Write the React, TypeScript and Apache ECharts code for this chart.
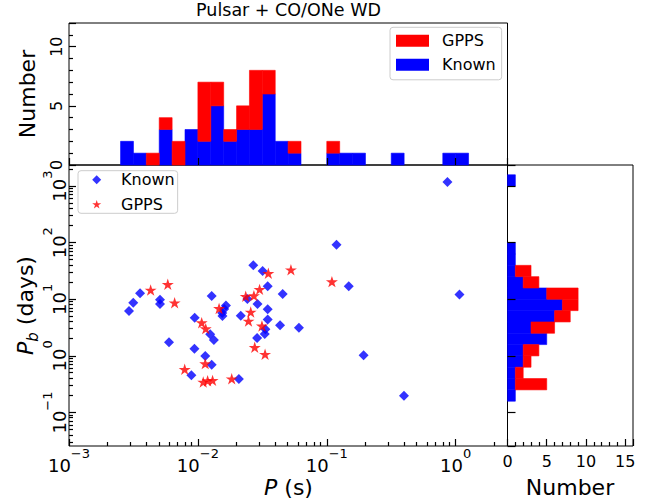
import React, { useEffect, useRef } from 'react';
import * as echarts from 'echarts';

// ---------------- data ----------------
// Known systems: spin period P (s) and orbital period Pb (days)
const knownP = [
  0.863, 0.119, 0.0269, 0.0318, 0.0348, 0.148, 0.0455, 1.07, 0.00356, 0.00315,
  0.00292, 0.00508, 0.00508, 0.0128, 0.00944, 0.0242, 0.029, 0.0348, 0.0348, 0.0434,
  0.0608, 0.0215, 0.0165, 0.016, 0.01545, 0.0155, 0.0334, 0.033, 0.0288, 0.01245,
  0.0133, 0.00597, 0.0094, 0.0114, 0.0128, 0.0089, 0.0208, 0.193, 0.397,
];
const knownPb = [
  1180, 92, 39.9, 31.6, 17.0, 17.0, 12.4, 12.2, 12.8, 8.7,
  6.2, 9.8, 8.3, 11.4, 4.7, 10.1, 8.3, 6.7, 4.4, 3.47,
  3.15, 5.1, 7.8, 6.75, 5.73, 5.07, 2.95, 2.44, 2.07, 2.41,
  1.91, 1.74, 1.34, 0.995, 0.7, 0.454, 0.39, 1.03, 0.198,
];
// GPPS discoveries
const gppsP = [
  0.0043, 0.00584, 0.0066, 0.0146, 0.0235, 0.0272, 0.0301, 0.0352, 0.0527, 0.1096,
  0.0257, 0.0247, 0.0314, 0.0107, 0.0115, 0.0276, 0.0332, 0.0114, 0.0079, 0.011,
  0.0119, 0.013, 0.0183,
];
const gppsPb = [
  14.6, 18.4, 8.7, 6.9, 11.3, 11.6, 15.0, 28.8, 33.3, 20.5,
  5.97, 4.14, 3.38, 3.86, 3.03, 1.42, 1.07, 0.73, 0.58, 0.346,
  0.365, 0.37, 0.395,
];

// Histogram of log10(P): bin edges and counts
const pBinEdges = [
  -2.6, -2.5, -2.4, -2.3, -2.2, -2.1, -2.0, -1.9, -1.8, -1.7, -1.6, -1.5, -1.4, -1.3,
  -1.2, -1.1, -1.0, -0.9, -0.8, -0.7, -0.6, -0.5, -0.4, -0.3, -0.2, -0.1, 0.0, 0.1,
];
const knownPCounts = [2, 1, 0, 3, 0, 3, 2, 5, 2, 3, 3, 6, 2, 1, 0, 0, 1, 1, 1, 0, 0, 1, 0, 0, 0, 1, 1];
const gppsPCounts = [0, 0, 1, 1, 2, 0, 5, 2, 1, 2, 5, 2, 0, 1, 0, 0, 1, 0, 0, 0, 0, 0, 0, 0, 0, 0, 0];

// Histogram of log10(Pb)
const pbBinEdges = [
  -0.8, -0.6, -0.4, -0.2, 0.0, 0.2, 0.4, 0.6, 0.8, 1.0, 1.2, 1.4, 1.6, 1.8, 2.0,
  2.2, 2.4, 2.6, 2.8, 3.0, 3.2,
];
const knownPbCounts = [1, 1, 1, 2, 2, 5, 3, 6, 7, 5, 2, 1, 1, 1, 0, 0, 0, 0, 0, 1];
const gppsPbCounts = [0, 4, 1, 1, 2, 0, 3, 2, 2, 4, 2, 2, 0, 0, 0, 0, 0, 0, 0, 0];

// axis ranges (log10 space for the log axes)
const X_MIN = -3;
const X_MAX = 0.402;
const Y_MIN = -1.592;
const Y_MAX = 3.373;

const FONT = 'DejaVu Sans';
const BLUE = '#0000ff';
const RED = '#ff0000';
const STAR =
  'path://M0,-1 L0.2245,-0.309 L0.951,-0.309 L0.3633,0.118 L0.588,0.809 L0,0.382 L-0.588,0.809 L-0.3633,0.118 L-0.951,-0.309 L-0.2245,-0.309 Z';

const logLabel = (v: number) => {
  const r = Math.round(v);
  if (Math.abs(v - r) > 1e-6) return '';
  const e = r < 0 ? '\u2212' + String(-r) : String(r);
  return '{b|10}{s|' + e + '}';
};
const logRich = {
  b: { fontSize: 18, lineHeight: 27, verticalAlign: 'bottom', fontFamily: FONT, color: '#000' },
  s: { fontSize: 13, lineHeight: 13, verticalAlign: 'top', fontFamily: FONT, color: '#000' },
};

const minorLog = (lo: number, hi: number) => {
  const out: number[] = [];
  for (let n = Math.floor(lo); n <= Math.ceil(hi); n++) {
    for (let k = 2; k <= 9; k++) {
      const v = n + Math.log10(k);
      if (v > lo && v < hi) out.push(v);
    }
  }
  return out;
};

const crisp = (v: number) => Math.round(v - 0.5) + 0.5;

export default function App() {
  const ref = useRef<HTMLDivElement>(null);

  useEffect(() => {
    if (!ref.current) return;
    const chart = echarts.init(ref.current, undefined, { renderer: 'svg' });

    const rectItem = (color: string, horizontal: boolean) => (params: any, api: any) => {
      const e0 = api.value(0);
      const e1 = api.value(1);
      const lo = api.value(2);
      const hi = api.value(3);
      if (!(hi > lo)) return null;
      const a = horizontal ? api.coord([lo, e0]) : api.coord([e0, lo]);
      const b = horizontal ? api.coord([hi, e1]) : api.coord([e1, hi]);
      return {
        type: 'rect',
        shape: { x: a[0], y: b[1], width: b[0] - a[0], height: a[1] - b[1] },
        style: { fill: color, stroke: color, lineWidth: 0.6 },
      };
    };

    const histData = (edges: number[], lower: number[], upper: number[]) =>
      lower.map((l, i) => [edges[i], edges[i + 1], l, upper[i]]);

    const zeros = (n: number) => new Array(n).fill(0);
    const sum = (a: number[], b: number[]) => a.map((v, i) => v + b[i]);

    const minorX = minorLog(X_MIN, X_MAX);
    const minorY = minorLog(Y_MIN, Y_MAX);

    const tickLine = { color: '#000', width: 1.2 };
    const noLine = { show: false, onZero: false };
    const majorTick = (len: number) => ({ show: true, inside: true, length: len, lineStyle: tickLine });

    const option: any = {
      animation: false,
      backgroundColor: '#fff',
      title: {
        text: 'Pulsar + CO/ONe WD',
        left: 288.5,
        top: 1,
        padding: 0,
        textAlign: 'center',
        textStyle: { fontSize: 17.5, fontWeight: 'normal', fontFamily: FONT, color: '#000' },
      },
      grid: [
        { left: 69, top: 23, width: 438.5, height: 142, show: true, borderColor: '#000', borderWidth: 1, backgroundColor: 'transparent' },
        { left: 69, top: 165, width: 438.5, height: 281, show: true, borderColor: '#000', borderWidth: 1, backgroundColor: 'transparent' },
        { left: 507.5, top: 165, width: 125.5, height: 281, show: true, borderColor: '#000', borderWidth: 1, backgroundColor: 'transparent' },
      ],
      xAxis: [
        {
          gridIndex: 0, type: 'value', position: 'bottom', min: X_MIN, max: X_MAX, minInterval: 1, maxInterval: 1, z: 5,
          axisLine: noLine, splitLine: { show: false },
          axisTick: majorTick(7),
          axisLabel: { show: false },
        },
        {
          gridIndex: 1, type: 'value', position: 'bottom', min: X_MIN, max: X_MAX, minInterval: 1, maxInterval: 1, z: 5,
          axisLine: noLine, splitLine: { show: false },
          axisTick: majorTick(7),
          axisLabel: { formatter: logLabel, rich: logRich, margin: 1, interval: 0, showMaxLabel: false },
        },
        {
          gridIndex: 2, type: 'value', position: 'bottom', min: 0, max: 16, interval: 5, z: 5,
          axisLine: noLine, splitLine: { show: false },
          axisTick: majorTick(7),
          minorTick: { show: true, splitNumber: 5, length: 4, lineStyle: tickLine },
          axisLabel: { fontSize: 16, fontFamily: FONT, color: '#000', margin: 5, showMaxLabel: false, lineHeight: 20 },
        },
      ],
      yAxis: [
        {
          gridIndex: 0, type: 'value', position: 'left', min: 0, max: 12, interval: 5, z: 5,
          axisLine: noLine, splitLine: { show: false },
          axisTick: majorTick(7),
          minorTick: { show: true, splitNumber: 5, length: 4, lineStyle: tickLine },
          axisLabel: { rotate: 90, fontSize: 16, fontFamily: FONT, color: '#000', margin: 3, showMaxLabel: false, lineHeight: 20 },
        },
        {
          gridIndex: 1, type: 'value', position: 'left', min: Y_MIN, max: Y_MAX, minInterval: 1, maxInterval: 1, z: 5,
          axisLine: noLine, splitLine: { show: false },
          axisTick: majorTick(7),
          axisLabel: { rotate: 90, formatter: logLabel, rich: logRich, margin: 1, interval: 0, showMaxLabel: false, showMinLabel: false },
        },
        {
          gridIndex: 2, type: 'value', position: 'left', min: Y_MIN, max: Y_MAX, minInterval: 1, maxInterval: 1, z: 5,
          axisLine: noLine, splitLine: { show: false },
          axisTick: majorTick(8),
          axisLabel: { show: false },
        },
      ],
      legend: [
        {
          data: ['GPPS_hist', 'Known_hist'],
          formatter: (n: string) => n.replace('_hist', ''),
          orient: 'vertical', left: 390, top: 27.3,
          padding: [4.5, 6, 6, 6], itemGap: 6, itemWidth: 33, itemHeight: 12, icon: 'rect',
          textStyle: { fontSize: 16, fontFamily: FONT, color: '#000', lineHeight: 18, padding: [0, 0, 0, 8] },
          borderColor: '#cccccc', borderWidth: 1, borderRadius: 3, backgroundColor: 'rgba(255,255,255,0.8)',
          selectedMode: false, z: 10,
        },
        {
          data: ['Known', 'GPPS'],
          orient: 'vertical', left: 78, top: 170.7,
          padding: [1, 3, 1, 14.2], itemGap: 8.6, itemWidth: 9, itemHeight: 9,
          textStyle: { fontSize: 16, fontFamily: FONT, color: '#000', lineHeight: 16, padding: [0, 0, 0, 14.8] },
          borderColor: '#cccccc', borderWidth: 1, borderRadius: 3, backgroundColor: 'rgba(255,255,255,0.8)',
          selectedMode: false, z: 10,
        },
      ],
      graphic: [
        {
          type: 'text', x: 288.5, y: 487,
          style: {
            text: '{i|P}{r| (s)}',
            rich: {
              i: { fontSize: 22, fontStyle: 'italic', fontFamily: FONT, fill: '#000' },
              r: { fontSize: 22, fontFamily: FONT, fill: '#000' },
            },
            align: 'center', verticalAlign: 'middle', fill: '#000',
          },
        },
        {
          type: 'text', x: 570, y: 487,
          style: { text: 'Number', fontSize: 22, fontFamily: FONT, fill: '#000', align: 'center', verticalAlign: 'middle' },
        },
        {
          type: 'text', x: 27, y: 94, rotation: Math.PI / 2,
          style: { text: 'Number', fontSize: 22, fontFamily: FONT, fill: '#000', align: 'center', verticalAlign: 'middle' },
        },
        {
          type: 'text', x: 27, y: 305.5, rotation: Math.PI / 2,
          style: {
            text: '{i|P}{sub|b}{r| (days)}',
            rich: {
              i: { fontSize: 22, lineHeight: 26, verticalAlign: 'top', fontStyle: 'italic', fontFamily: FONT, fill: '#000' },
              sub: { fontSize: 15, lineHeight: 12, verticalAlign: 'bottom', fontStyle: 'italic', fontFamily: FONT, fill: '#000' },
              r: { fontSize: 22, lineHeight: 26, verticalAlign: 'top', fontFamily: FONT, fill: '#000' },
            },
            align: 'center', verticalAlign: 'middle', fill: '#000',
          },
        },
      ],
      series: [
        {
          type: 'custom', name: 'Known_hist', xAxisIndex: 0, yAxisIndex: 0, z: 2,
          itemStyle: { color: BLUE },
          encode: { x: [0, 1], y: [2, 3] },
          data: histData(pBinEdges, zeros(knownPCounts.length), knownPCounts),
          renderItem: rectItem(BLUE, false),
        },
        {
          type: 'custom', name: 'GPPS_hist', xAxisIndex: 0, yAxisIndex: 0, z: 2,
          itemStyle: { color: RED },
          encode: { x: [0, 1], y: [2, 3] },
          data: histData(pBinEdges, knownPCounts, sum(knownPCounts, gppsPCounts)),
          renderItem: rectItem(RED, false),
        },
        {
          type: 'custom', name: 'Known_rhist', xAxisIndex: 2, yAxisIndex: 2, z: 2,
          itemStyle: { color: BLUE },
          encode: { x: [2, 3], y: [0, 1] },
          data: histData(pbBinEdges, zeros(knownPbCounts.length), knownPbCounts),
          renderItem: rectItem(BLUE, true),
        },
        {
          type: 'custom', name: 'GPPS_rhist', xAxisIndex: 2, yAxisIndex: 2, z: 2,
          itemStyle: { color: RED },
          encode: { x: [2, 3], y: [0, 1] },
          data: histData(pbBinEdges, knownPbCounts, sum(knownPbCounts, gppsPbCounts)),
          renderItem: rectItem(RED, true),
        },
        {
          type: 'custom', name: 'minorX', xAxisIndex: 1, yAxisIndex: 1, z: 3, silent: true, clip: false,
          encode: { x: 0, y: 1 },
          data: minorX.map((v) => [v, Y_MIN]),
          renderItem: (params: any, api: any) => {
            const p = api.coord([api.value(0), Y_MIN]);
            const x = crisp(p[0]);
            return { type: 'line', shape: { x1: x, y1: p[1], x2: x, y2: p[1] - 4 }, style: { stroke: '#000', lineWidth: 1.2 } };
          },
        },
        {
          type: 'custom', name: 'minorY', xAxisIndex: 1, yAxisIndex: 1, z: 3, silent: true, clip: false,
          encode: { x: 0, y: 1 },
          data: minorY.map((v) => [X_MIN, v]),
          renderItem: (params: any, api: any) => {
            const p = api.coord([X_MIN, api.value(1)]);
            const y = crisp(p[1]);
            return { type: 'line', shape: { x1: p[0], y1: y, x2: p[0] + 4, y2: y }, style: { stroke: '#000', lineWidth: 1.2 } };
          },
        },
        {
          type: 'scatter', name: 'Known', xAxisIndex: 1, yAxisIndex: 1, z: 6,
          symbol: 'diamond', symbolSize: 10,
          itemStyle: { color: BLUE },
          data: knownP.map((p, i) => [Math.log10(p), Math.log10(knownPb[i])]),
        },
        {
          type: 'scatter', name: 'GPPS', xAxisIndex: 1, yAxisIndex: 1, z: 7,
          symbol: STAR, symbolSize: 12, symbolKeepAspect: true,
          itemStyle: { color: RED },
          data: gppsP.map((p, i) => [Math.log10(p), Math.log10(gppsPb[i])]),
        },
      ],
    };

    chart.setOption(option);
    return () => chart.dispose();
  }, []);

  return (
    <div
      ref={ref}
      style={{ position: 'fixed', left: 0, top: 0, width: 661, height: 501, background: '#fff' }}
    />
  );
}
